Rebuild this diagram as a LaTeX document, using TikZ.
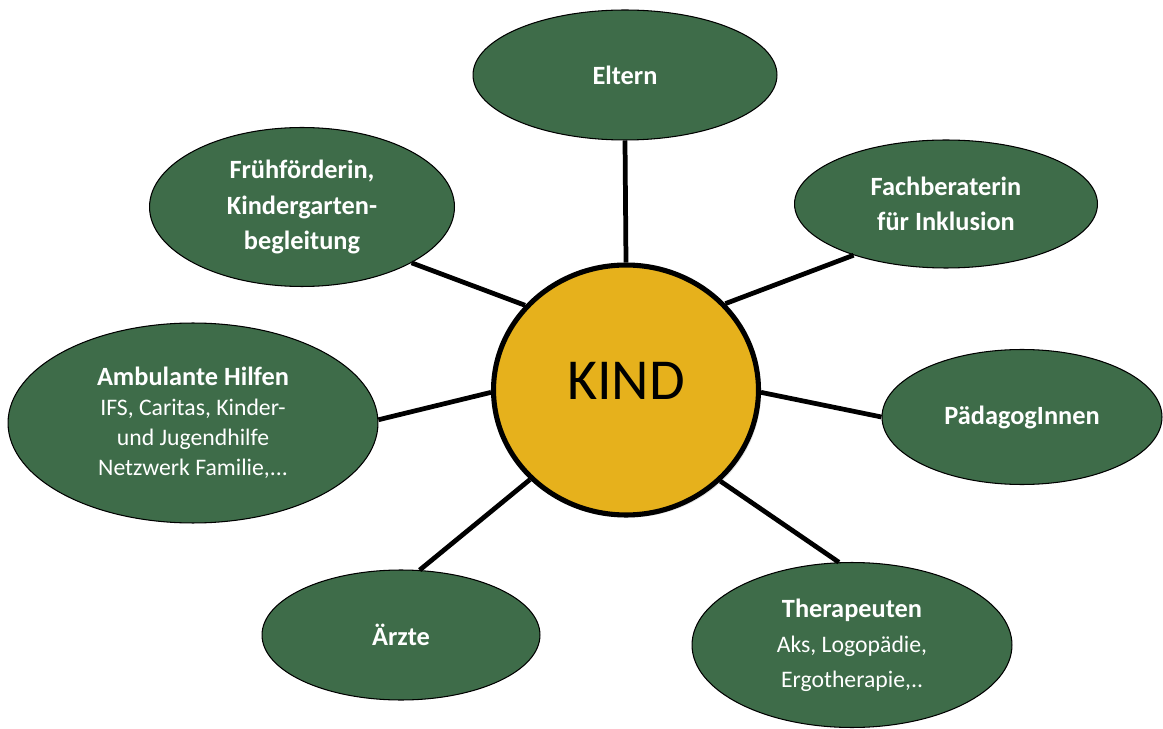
\documentclass[tikz,border=0pt]{standalone}
\usepackage{fontspec}
\setmainfont{Carlito}
\usetikzlibrary{shapes.geometric,shadows}
\definecolor{kindgelb}{RGB}{230,177,28}
\definecolor{netzgruen}{RGB}{62,108,73}
\newcommand{\klein}{\mdseries\fontsize{13.5}{16}\selectfont}

\begin{document}
\begin{tikzpicture}[x=0.02cm,y=-0.02cm,
		partner/.style={ellipse,draw=black,line width=0.6pt,fill=netzgruen,text=white,align=center,inner sep=0pt,font=\fontsize{15}{20}\selectfont\bfseries},
		band/.style={line width=2.7pt}]
				\useasboundingbox (0,0) rectangle (1163,729);
				\node[ellipse,draw=black,line width=2.9pt,fill=kindgelb,minimum width=5.3cm,minimum height=5cm,inner sep=0pt,text depth=10pt,font=\fontsize{33}{36}\selectfont,drop shadow={opacity=0.2,shadow xshift=1.5pt,shadow yshift=-1.5pt}] (kind) at (626,390) {KIND};
				\node[partner,minimum width=6.08cm,minimum height=2.6cm] (eltern) at (625,75) {Eltern};
				\node[partner,minimum width=6.06cm,minimum height=2.56cm] (fach) at (946,204) {Fachberaterin\\für Inklusion};
				\node[partner,minimum width=6.1cm,minimum height=3.18cm] (frueh) at (302,207) {Frühförderin,\\Kindergarten-\\begleitung};
				\node[partner,minimum width=7.4cm,minimum height=4cm,font=\fontsize{15}{17}\selectfont\bfseries] (amb) at (193,423) {Ambulante Hilfen\\\klein IFS, Caritas, Kinder-\\\klein und Jugendhilfe\\\klein Netzwerk Familie,...};
				\node[partner,minimum width=5.6cm,minimum height=2.7cm] (paed) at (1022,417) {PädagogInnen};
				\node[partner,minimum width=5.56cm,minimum height=2.6cm] (aerzte) at (401,635) {Ärzte};
				\node[partner,minimum width=6.4cm,minimum height=3.3cm] (ther) at (852,645) {Therapeuten\\\klein Aks, Logopädie,\\\klein Ergotherapie,..};
				% Verbindungen zum Kind
				\draw[band] (kind.90)--(eltern.south);
				\draw[band] (kind.41)--(fach.209);
				\draw[band] (kind.140)--(frueh.333);
				\draw[band] (kind.181)--(amb.1);
				\draw[band] (kind.-1)--(paed.180);
				\draw[band] (kind.223)--(aerzte.74);
				\draw[band] (kind.316)--(ther.99);
			\end{tikzpicture}
\end{document}
